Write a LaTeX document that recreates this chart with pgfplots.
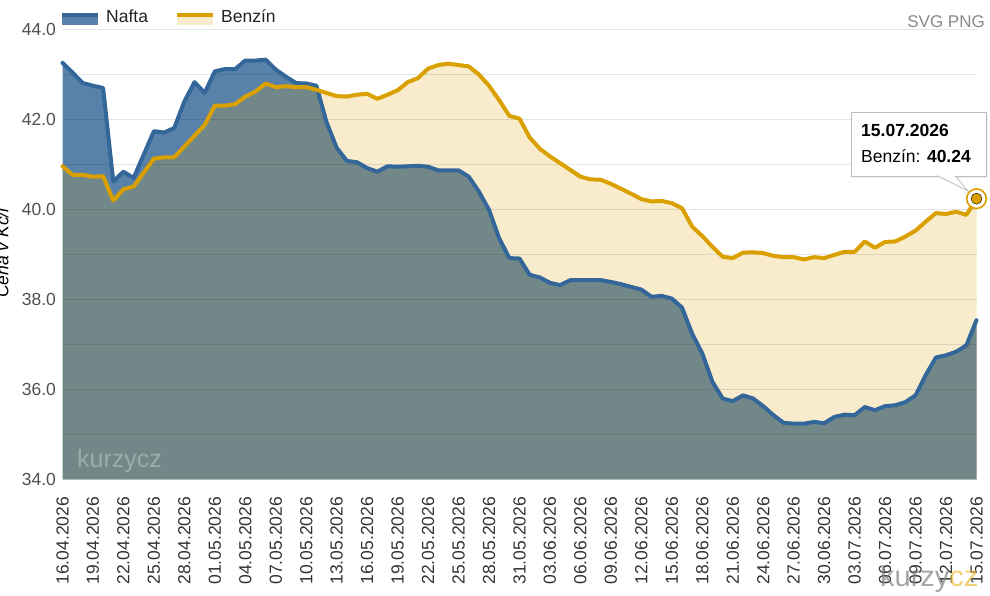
\documentclass[border=0pt]{standalone}
\usepackage{pgfplots}
\pgfplotsset{compat=1.18}
\usepackage{pgfplotstable}
\usepackage{fontspec}
\setmainfont{Liberation Sans}
\definecolor{nline}{RGB}{51,102,153}
\definecolor{nfill}{RGB}{88,130,170}
\definecolor{bline}{RGB}{218,160,0}
\definecolor{tickc}{RGB}{51,51,51}
\definecolor{wmgold}{RGB}{235,190,60}

\pgfplotstableread{
day nafta benzin
0 43.26 40.96
1 43.04 40.77
2 42.81 40.77
3 42.75 40.73
4 42.70 40.74
5 40.62 40.20
6 40.84 40.45
7 40.70 40.51
8 41.22 40.82
9 41.74 41.13
10 41.71 41.16
11 41.81 41.16
12 42.40 41.40
13 42.83 41.64
14 42.59 41.88
15 43.07 42.31
16 43.12 42.31
17 43.12 42.34
18 43.31 42.51
19 43.31 42.62
20 43.33 42.80
21 43.11 42.72
22 42.95 42.74
23 42.81 42.72
24 42.80 42.72
25 42.75 42.66
26 41.94 42.59
27 41.37 42.52
28 41.08 42.51
29 41.05 42.55
30 40.92 42.57
31 40.84 42.46
32 40.96 42.55
33 40.95 42.65
34 40.96 42.83
35 40.97 42.92
36 40.95 43.13
37 40.87 43.21
38 40.87 43.24
39 40.87 43.21
40 40.73 43.18
41 40.40 43.00
42 39.99 42.75
43 39.36 42.43
44 38.92 42.08
45 38.91 42.02
46 38.55 41.60
47 38.49 41.35
48 38.37 41.18
49 38.32 41.03
50 38.43 40.88
51 38.43 40.73
52 38.43 40.67
53 38.43 40.66
54 38.39 40.57
55 38.34 40.46
56 38.28 40.35
57 38.22 40.23
58 38.06 40.18
59 38.08 40.19
60 38.02 40.14
61 37.82 40.03
62 37.24 39.62
63 36.80 39.41
64 36.17 39.17
65 35.80 38.95
66 35.74 38.92
67 35.87 39.04
68 35.80 39.05
69 35.63 39.03
70 35.43 38.97
71 35.26 38.94
72 35.24 38.94
73 35.24 38.89
74 35.28 38.94
75 35.25 38.92
76 35.39 38.99
77 35.44 39.06
78 35.43 39.06
79 35.61 39.29
80 35.54 39.15
81 35.63 39.28
82 35.65 39.29
83 35.72 39.40
84 35.87 39.53
85 36.32 39.73
86 36.71 39.92
87 36.76 39.90
88 36.84 39.95
89 36.98 39.88
90 37.54 40.24
}\prices

\pgfplotstableread{
day val
90 40.24
}\hover

\begin{document}
\begin{tikzpicture}
\begin{axis}[
  at={(62.5pt,116.5pt)}, anchor=south west, scale only axis,
  width=914pt, height=450pt,
  xmin=0, xmax=90, ymin=34, ymax=44,
  clip=false,
  set layers,
  axis line style={draw=none},
  major tick length=0pt, minor tick length=0pt,
  xtick={0,3,...,90},
  xticklabels={16.04.2026,19.04.2026,22.04.2026,25.04.2026,28.04.2026,01.05.2026,04.05.2026,07.05.2026,10.05.2026,13.05.2026,16.05.2026,19.05.2026,22.05.2026,25.05.2026,28.05.2026,31.05.2026,03.06.2026,06.06.2026,09.06.2026,12.06.2026,15.06.2026,18.06.2026,21.06.2026,24.06.2026,27.06.2026,30.06.2026,03.07.2026,06.07.2026,09.07.2026,12.07.2026,15.07.2026},
  ytick={34,36,...,44},
  minor ytick={35,37,...,43},
  ymajorgrids, yminorgrids,
  major grid style={black, opacity=0.1, line width=1pt},
  minor grid style={black, opacity=0.1, line width=1pt},
  every tick label/.append style={font=\fontsize{17.5}{21}\selectfont, text=tickc},
  xticklabel style={rotate=90, anchor=east},
  xticklabel shift=14pt,
  yticklabel style={/pgf/number format/fixed, /pgf/number format/fixed zerofill, /pgf/number format/precision=1, /pgf/number format/assume math mode=true, xshift=-3pt, text={rgb,255:red,80;green,80;blue,80}},
]
\addplot[on layer=axis background, fill=nfill, draw=none] table[x=day, y=nafta] {\prices} -- (axis cs:90,34) -- (axis cs:0,34) -- cycle;
\addplot[on layer=axis background, fill=bline, fill opacity=0.2, draw=none] table[x=day, y=benzin] {\prices} -- (axis cs:90,34) -- (axis cs:0,34) -- cycle;
\addplot[nline, line width=4pt, line join=round, line cap=round, no marks] table[x=day, y=nafta] {\prices};
\addplot[bline, line width=4pt, line join=round, line cap=round, no marks] table[x=day, y=benzin] {\prices};
\addplot[only marks, mark=*, mark size=9.8pt, mark options={fill=white, draw=bline, line width=1.6pt}] table[x=day, y=val] {\hover};
\addplot[only marks, mark=*, mark size=5.5pt, mark options={fill=bline, draw=none}] table[x=day, y=val] {\hover};
\end{axis}

% y axis title
\node[rotate=90, anchor=base, font=\fontsize{17.5}{21}\selectfont\itshape, text=black] at (8.5pt,343pt) {Cena v Kč/l};

% legend
\fill[nfill] (62pt,571pt) rectangle (98pt,581pt);
\draw[nline, line width=4pt] (62pt,581pt) -- (98pt,581pt);
\node[anchor=base west, inner sep=0pt, font=\fontsize{17.5}{21}\selectfont, text={rgb,255:red,34;green,34;blue,34}] at (106pt,573pt) {Nafta};
\fill[bline, opacity=0.2] (177pt,571pt) rectangle (213pt,581pt);
\draw[bline, line width=4pt] (177pt,581pt) -- (213pt,581pt);
\node[anchor=base west, inner sep=0pt, font=\fontsize{17.5}{21}\selectfont, text={rgb,255:red,34;green,34;blue,34}] at (221pt,573pt) {Benzín};

% export buttons
\node[anchor=base east, inner sep=0pt, font=\fontsize{17}{20}\selectfont, text={rgb,255:red,136;green,136;blue,136}] at (985pt,568pt) {SVG PNG};

% tooltip
\fill[black, opacity=0.07] (853pt,418pt) rectangle (988pt,482pt);
\filldraw[fill=white, draw={rgb,255:red,190;green,190;blue,190}, line width=0.8pt] (851pt,420pt) rectangle (986pt,484pt);
\filldraw[fill=white, draw={rgb,255:red,190;green,190;blue,190}, line width=0.8pt] (937pt,420.4pt) -- (968pt,405pt) -- (955pt,420.4pt);
\fill[white] (936pt,420.8pt) rectangle (957pt,423pt);
\node[anchor=base west, inner sep=0pt, font=\fontsize{17.5}{21}\selectfont\bfseries] at (861pt,459.5pt) {15.07.2026};
\node[anchor=base west, inner sep=0pt, font=\fontsize{17.5}{21}\selectfont] at (861pt,433pt) {Benzín: \textbf{40.24}};

% watermarks
\node[anchor=base west, inner sep=0pt, font=\fontsize{25}{28}\selectfont, text=white, opacity=0.3] at (77pt,128pt) {kurzycz};
\node[anchor=base west, inner sep=0pt, font=\fontsize{29}{32}\selectfont, opacity=0.7] at (880pt,9pt) {\textcolor{gray}{kurzy}\textcolor{wmgold}{cz}};

\pgfresetboundingbox
\useasboundingbox (0,0) rectangle (990pt,596pt);
\end{tikzpicture}
\end{document}
